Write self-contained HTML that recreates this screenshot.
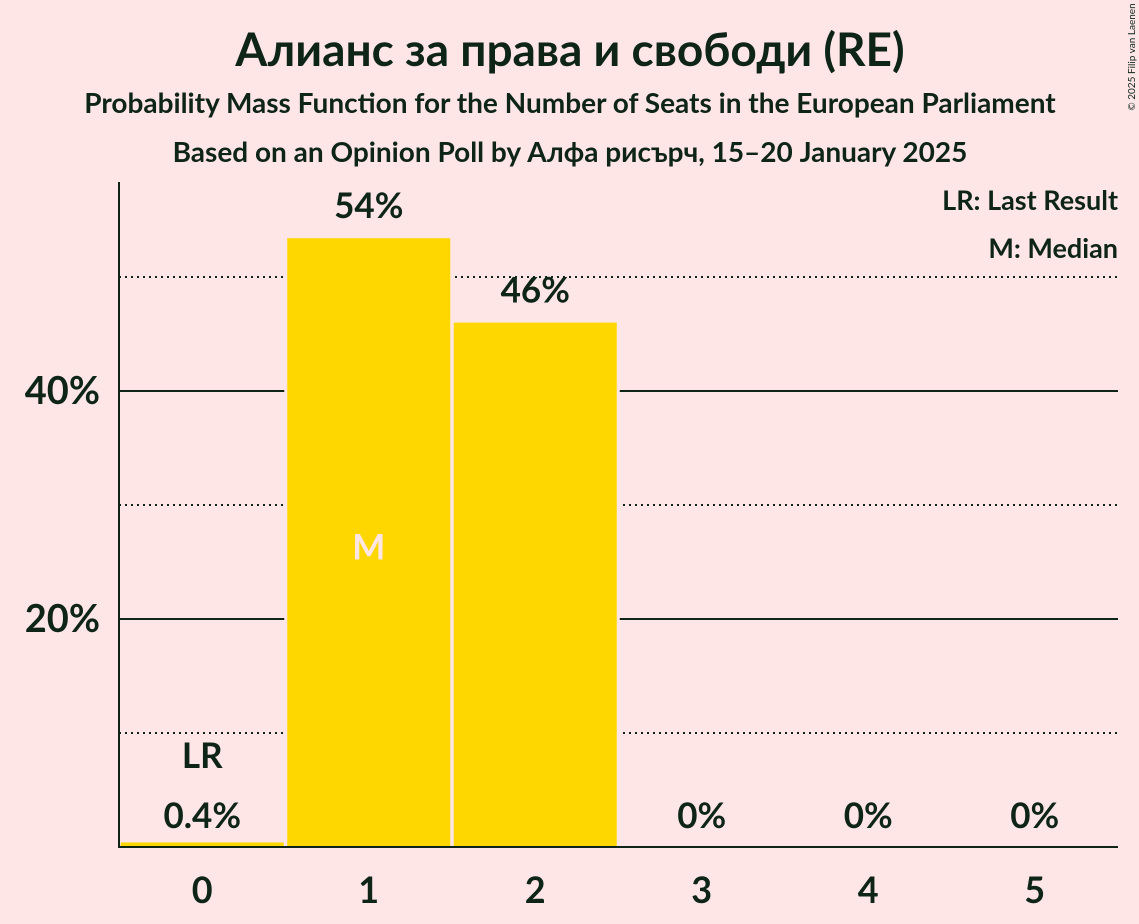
<!DOCTYPE html>
<html><head><meta charset="utf-8"><style>
body{margin:0;background:#fde6e5;}
svg{display:block;font-family:"Lato","Liberation Sans","Noto Sans CJK SC",sans-serif;}
</style></head><body>
<svg id="c" width="1139" height="924">
<rect width="1139" height="924" fill="#fde6e5"/>
<text x="570" y="66" text-anchor="middle" font-size="46" font-weight="bold" fill="#0d2416">Алианс за права и свободи (RE)</text>
<text x="570" y="113" text-anchor="middle" font-size="28" font-weight="bold" fill="#0d2416">Probability Mass Function for the Number of Seats in the European Parliament</text>
<text x="570" y="162" text-anchor="middle" font-size="28" font-weight="bold" fill="#0d2416">Based on an Opinion Poll by Алфа рисърч, 15–20 January 2025</text>
<text x="1135" y="57" font-size="10" fill="#0d2416" transform="rotate(-90 1135 57)" text-anchor="middle">© 2025 Filip van Laenen</text>
<text x="1118" y="210" text-anchor="end" font-size="27" font-weight="bold" fill="#0d2416">LR: Last Result</text>
<text x="1118" y="258" text-anchor="end" font-size="27" font-weight="bold" fill="#0d2416">M: Median</text>
<g id="grid"></g>
<g id="bars"></g>
<line x1="119" y1="182" x2="119" y2="848" stroke="#0d2416" stroke-width="2"/>
<line x1="118" y1="847" x2="1118" y2="847" stroke="#0d2416" stroke-width="2"/>
</svg>
<script>
const categories=[0,1,2,3,4,5];
const values=[0.4,53.4,46.0,0,0,0];
const labels=["0.4%","54%","46%","0%","0%","0%"];
const solidTicks=[20,40];
const dottedTicks=[10,30,50];
const tickLabels=["20%","40%"];
const lastResultIndex=0, medianIndex=1;
const NS="http://www.w3.org/2000/svg";
const x0=119,x1=1118,base=847,pxPer=11.4,step=166.5;
const y=v=>base-v*pxPer;
const cx=i=>x0+step*(i+0.5);
const grid=document.getElementById('grid'),bars=document.getElementById('bars');
function mk(tag,attrs,parent){const e=document.createElementNS(NS,tag);for(const k in attrs)e.setAttribute(k,attrs[k]);parent.appendChild(e);return e;}
solidTicks.forEach((t,i)=>{
 const l=mk('line',{x1:x0,x2:x1,y1:y(t),y2:y(t),stroke:'#0d2416','stroke-width':2},grid);
 
 
 const tx=mk('text',{x:100,y:y(t)+13,'text-anchor':'end','font-size':38,'font-weight':'bold',fill:'#0d2416'},grid);
 tx.textContent=tickLabels[i];
 
 
});
dottedTicks.forEach(t=>{
 const l=mk('line',{x1:x0,x2:x1,y1:y(t),y2:y(t),stroke:'#0d2416','stroke-width':2,'stroke-dasharray':'2,4'},grid);
 
 
});
categories.forEach((c,i)=>{
 const v=values[i];
 if(v>0){
  const r=mk('rect',{x:cx(i)-81.5,y:y(v),width:163,height:v*pxPer,fill:'#ffd700',stroke:'#fde6e5','stroke-width':i===0?0:6},bars);
  
  
  if(i>0){const r2=mk('rect',{x:cx(i)-81.5,y:y(v),width:163,height:v*pxPer,fill:'#ffd700'},bars);
  
  }
 }
 const ly=v>5?y(v)-20:base-19;
 const t=mk('text',{x:cx(i),y:ly,'text-anchor':'middle','font-size':35,'font-weight':'bold',fill:'#0d2416'},bars);
 t.textContent=labels[i];
 
 
 const xl=mk('text',{x:cx(i),y:903,'text-anchor':'middle','font-size':36,'font-weight':'bold',fill:'#0d2416'},bars);
 xl.textContent=c;
 
 
 if(i===lastResultIndex){
  const lr=mk('text',{x:cx(i),y:ly-60,'text-anchor':'middle','font-size':35,'font-weight':'bold',fill:'#0d2416'},bars);
  lr.textContent='LR';
  
  
 }
 if(i===medianIndex){
  const m=mk('text',{x:cx(i),y:y(v/2)+17,'text-anchor':'middle','font-size':35,'font-weight':'bold',fill:'#fde6e5'},bars);
  m.textContent='M';
  
  
 }
});
</script>
</body></html>
